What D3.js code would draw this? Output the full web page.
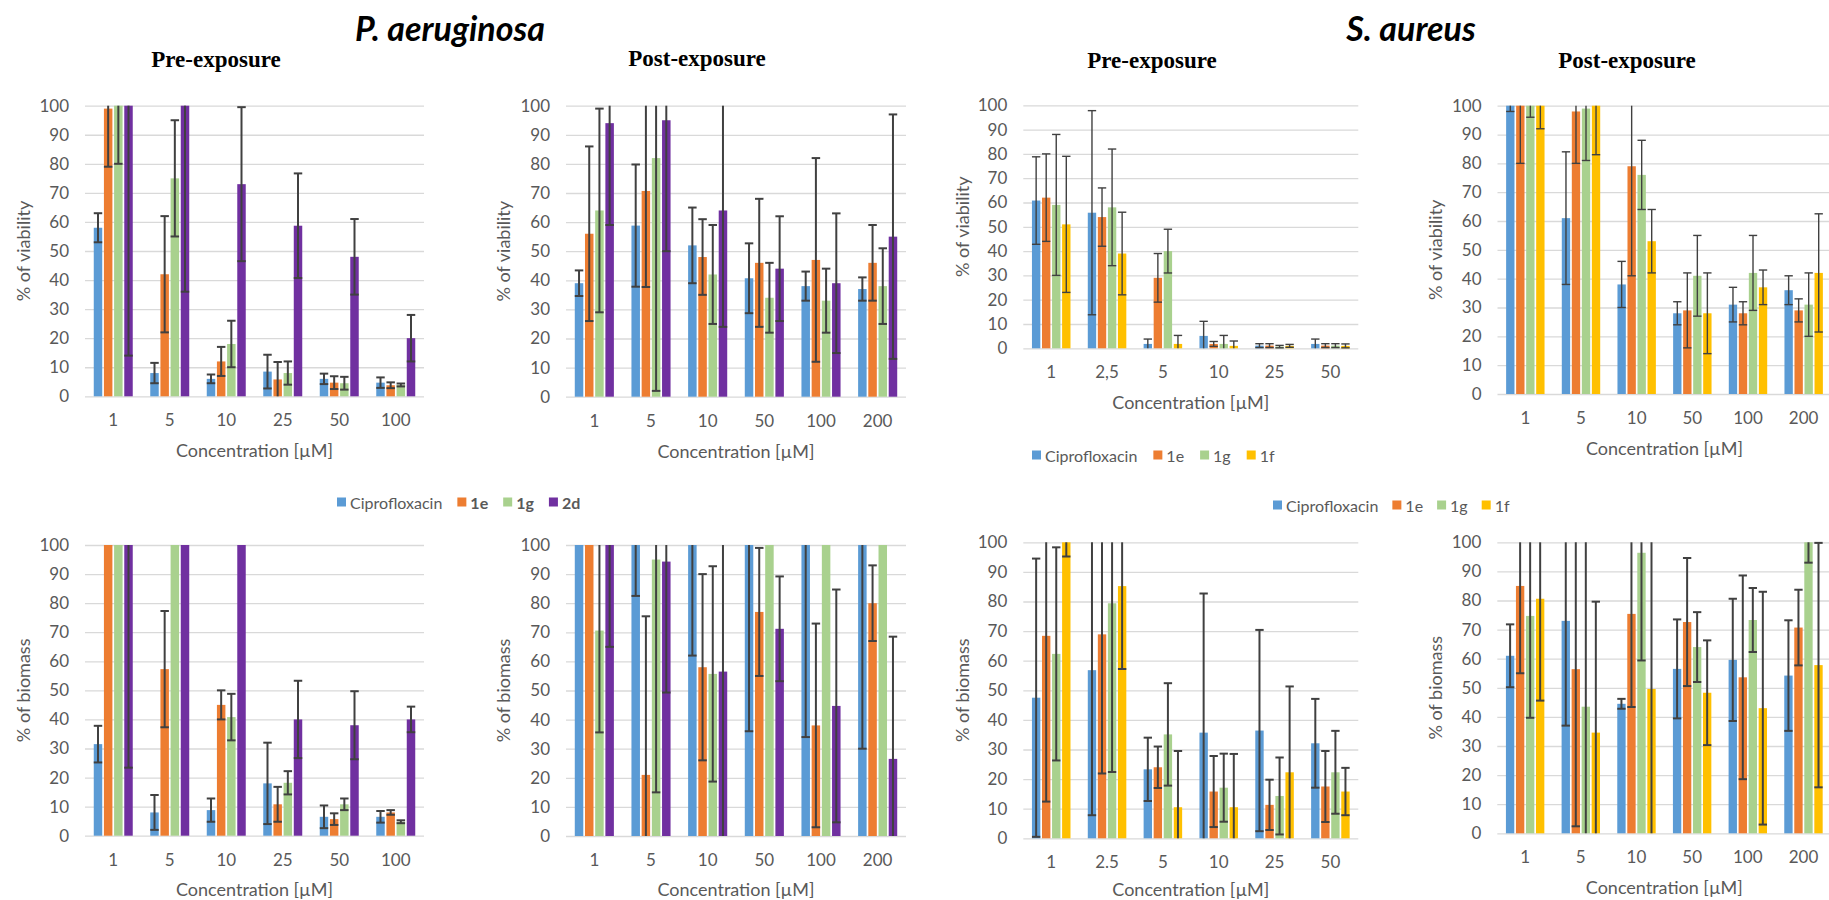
<!DOCTYPE html>
<html>
<head>
<meta charset="utf-8">
<script src="https://cdn.jsdelivr.net/npm/d3@7"></script>
<style>
  body { margin: 0; background: #fff; }
</style>
</head>
<body>
<div id="container"></div>
<script>
// categories
const paPreConc = ["1", "5", "10", "25", "50", "100"];
const paPostConc = ["1", "5", "10", "50", "100", "200"];
const saPreViabConc = ["1", "2,5", "5", "10", "25", "50"];
const saPreBioConc = ["1", "2.5", "5", "10", "25", "50"];
const saPostConc = ["1", "5", "10", "50", "100", "200"];
const paSeries = ["Ciprofloxacin", "1e", "1g", "2d"];
const saSeries = ["Ciprofloxacin", "1e", "1g", "1f"];
const yTicks = [0, 10, 20, 30, 40, 50, 60, 70, 80, 90, 100];

// P. aeruginosa, viability
const paPreViab = [
  [58, 8, 6, 8.5, 6, 4.7],
  [99, 42, 12, 5.8, 4.7, 3.8],
  [100, 75, 18, 8, 4.5, 3.9],
  [100, 100, 73, 58.7, 48, 20]
];
const paPreViabErr = [
  [5, 3.5, 1.5, 5.8, 1.8, 1.8],
  [20, 20, 5, 6, 2.2, 1],
  [20, 20, 8, 4, 2.2, 0.5],
  [86, 64, 26.5, 18, 13, 8]
];
const paPostViab = [
  [39, 58.8, 52, 40.7, 38, 37],
  [56, 70.7, 48, 46, 47, 46],
  [64, 82, 42, 34, 33, 38],
  [94, 95, 64, 44, 39, 55]
];
const paPostViabErr = [
  [4.4, 21, 13, 12, 5, 4],
  [30, 33, 13, 22, 35, 13],
  [35, 80, 17, 12, 11, 13],
  [35, 45, 40, 18, 24, 42]
];

// P. aeruginosa, biomass
const paPreBio = [
  [31.5, 8, 8.8, 18, 6.5, 6.5],
  [100, 57.3, 45, 10.8, 5.7, 8],
  [100, 100, 40.8, 18.2, 10.8, 4.8],
  [100, 100, 100, 40, 38, 40]
];
const paPreBioErr = [
  [6.3, 6, 4, 14, 3.9, 2],
  [0, 20, 5, 6, 2, 0.8],
  [0, 0, 8, 4, 2, 0.5],
  [76.6, 0, 0, 13.3, 11.7, 4.4]
];
const paPostBio = [
  [100, 100, 100, 100, 100, 100],
  [100, 21, 58, 77, 38, 80],
  [70.6, 95, 55.7, 100, 100, 100],
  [100, 94.3, 56.5, 71.2, 44.7, 26.5]
];
const paPostBioErr = [
  [0, 17.5, 38, 64, 66, 70],
  [0, 54.5, 32, 22, 35, 13],
  [35, 80, 37, 0, 0, 0],
  [35, 45, 57, 18, 40, 42]
];

// S. aureus, viability
const saPreViab = [
  [60.8, 55.8, 1.8, 5.1, 1.1, 1.8],
  [62, 54, 29, 1.8, 1.1, 1.1],
  [59, 58, 40, 1.8, 0.7, 1.1],
  [51, 39, 1.8, 1, 1, 1]
];
const saPreViabErr = [
  [18, 42, 2, 6, 0.8, 2],
  [18, 12, 10, 1, 0.8, 0.8],
  [29, 24, 9, 3.5, 0.5, 0.8],
  [28, 17, 3.5, 2, 0.6, 0.8]
];
const saPostViab = [
  [100, 61, 38, 28, 31, 36],
  [100, 98, 79, 29, 28, 29],
  [100, 99, 76, 41, 42, 31],
  [100, 100, 53, 28, 37, 42]
];
const saPostViabErr = [
  [2, 23, 8, 4, 6, 5],
  [20, 18, 38, 13, 4, 4],
  [4, 18, 12, 14, 13, 11],
  [8, 17, 11, 14, 6, 20.5]
];

// S. aureus, biomass
const saPreBio = [
  [47.5, 56.8, 23.3, 35.7, 36.4, 32.1],
  [68.4, 68.9, 24, 15.8, 11.3, 17.5],
  [62.3, 79.4, 35.1, 17.1, 14.3, 22.3],
  [100, 85.2, 10.5, 10.5, 22.3, 15.8]
];
const saPreBioErr = [
  [47, 49, 10.7, 47, 34, 15],
  [56, 47, 7, 12, 8.5, 12],
  [36, 57, 17.3, 11.5, 13, 14],
  [4.8, 28, 19, 18, 29, 8]
];
const saPostBio = [
  [61, 73, 44.5, 56.5, 59.6, 54.2],
  [85, 56.4, 75.4, 72.6, 53.6, 70.7],
  [74.7, 43.5, 96.4, 64, 73.3, 100],
  [80.6, 34.6, 49.6, 48.3, 43, 57.8]
];
const saPostBioErr = [
  [10.8, 36, 1.7, 17, 21, 19],
  [30, 54, 32, 22, 35, 13],
  [35, 57, 37, 12, 11, 7],
  [35, 45, 51, 18, 40, 42]
];

const paColors = ["#5B9BD5", "#ED7D31", "#A9D18E", "#7030A0"];
const saColors = ["#5B9BD5", "#ED7D31", "#A9D18E", "#FFC000"];

const WIDTH = 1829;
const HEIGHT = 900;
const FONT = "Lato, 'Open Sans', sans-serif";
const GREY = "#595959";

const svg = d3.select("#container")
  .append("svg")
  .attr("width", WIDTH)
  .attr("height", HEIGHT);

// layout of the eight panels
const panels = [
  { cats: paPreConc, series: paSeries, colors: paColors, vals: paPreViab, errs: paPreViabErr,
    left: 85, right: 424, top: 105.7, bottom: 396.3, ylab: "% of viability", ylabX: 23,
    title: "Pre-exposure", titleX: 216, titleY: 59, errW: 2 },
  { cats: paPostConc, series: paSeries, colors: paColors, vals: paPostViab, errs: paPostViabErr,
    left: 566, right: 906, top: 105.7, bottom: 396.7, ylab: "% of viability", ylabX: 503,
    title: "Post-exposure", titleX: 697, titleY: 58, errW: 2 },
  { cats: saPreViabConc, series: saSeries, colors: saColors, vals: saPreViab, errs: saPreViabErr,
    left: 1023.3, right: 1358.3, top: 105.3, bottom: 348.3, ylab: "% of viability", ylabX: 962,
    title: "Pre-exposure", titleX: 1152, titleY: 60, errW: 1.4 },
  { cats: saPostConc, series: saSeries, colors: saColors, vals: saPostViab, errs: saPostViabErr,
    left: 1497.5, right: 1831.5, top: 105.7, bottom: 394, ylab: "% of viability", ylabX: 1435,
    title: "Post-exposure", titleX: 1627, titleY: 60, errW: 1.4 },
  { cats: paPreConc, series: paSeries, colors: paColors, vals: paPreBio, errs: paPreBioErr,
    left: 85, right: 424, top: 545, bottom: 835.7, ylab: "% of biomass", ylabX: 23, errW: 2 },
  { cats: paPostConc, series: paSeries, colors: paColors, vals: paPostBio, errs: paPostBioErr,
    left: 566, right: 906, top: 545, bottom: 836, ylab: "% of biomass", ylabX: 503, errW: 2 },
  { cats: saPreBioConc, series: saSeries, colors: saColors, vals: saPreBio, errs: saPreBioErr,
    left: 1023.3, right: 1358.3, top: 542.3, bottom: 838.3, ylab: "% of biomass", ylabX: 962, errW: 2 },
  { cats: saPostConc, series: saSeries, colors: saColors, vals: saPostBio, errs: saPostBioErr,
    left: 1497.3, right: 1831.3, top: 542.3, bottom: 833.3, ylab: "% of biomass", ylabX: 1435, errW: 2 }
];

const drawPanel = (p) => {
  const g = svg.append("g");

  const xScale = d3.scaleBand()
    .domain(p.cats)
    .range([p.left, p.right]);
  const bw = xScale.bandwidth();
  const barW = bw * 0.15;
  const groupW = barW * 4.6;
  const xSeries = d3.scaleBand()
    .domain(p.series)
    .range([(bw - groupW) / 2, (bw + groupW) / 2])
    .paddingInner(1 / 6);

  const yScale = d3.scaleLinear()
    .domain([0, 100])
    .range([p.bottom, p.top])
    .clamp(true);

  // gridlines + y tick labels
  g.append("g")
    .attr("transform", "translate(" + p.left + ",0)")
    .call(d3.axisLeft(yScale).tickValues(yTicks).tickSize(-(p.right - p.left)).tickPadding(16))
    .call(a => a.select(".domain").remove())
    .call(a => a.selectAll("line").attr("stroke", "#D9D9D9").attr("stroke-width", 1.3))
    .call(a => a.selectAll("text").attr("fill", GREY).style("font-family", FONT).style("font-size", "17px"));

  // category labels
  g.append("g")
    .attr("transform", "translate(0," + p.bottom + ")")
    .call(d3.axisBottom(xScale).tickSize(0).tickPadding(18))
    .call(a => a.select(".domain").remove())
    .call(a => a.selectAll("text").attr("fill", GREY).style("font-family", FONT).style("font-size", "17px"));

  // bars
  p.series.forEach((s, si) => {
    g.selectAll(null)
      .data(p.vals[si])
      .enter()
      .append("rect")
      .attr("x", (d, i) => xScale(p.cats[i]) + xSeries(s))
      .attr("y", (d) => yScale(d))
      .attr("width", xSeries.bandwidth())
      .attr("height", (d) => yScale(0) - yScale(d))
      .attr("fill", p.colors[si]);
  });

  // error bars, clipped at the axis range like in Excel
  p.series.forEach((s, si) => {
    p.vals[si].forEach((v, i) => {
      const e = p.errs[si][i];
      if (!e) return;
      const cx = xScale(p.cats[i]) + xSeries(s) + xSeries.bandwidth() / 2;
      const hi = v + e, lo = v - e;
      g.append("line")
        .attr("x1", cx).attr("x2", cx)
        .attr("y1", yScale(hi)).attr("y2", yScale(lo))
        .attr("stroke", "#404040").attr("stroke-width", p.errW);
      [hi, lo].forEach(c => {
        if (c < 0 || c > 100) return;
        g.append("line")
          .attr("x1", cx - barW / 2).attr("x2", cx + barW / 2)
          .attr("y1", yScale(c)).attr("y2", yScale(c))
          .attr("stroke", "#404040").attr("stroke-width", p.errW);
      });
    });
  });

  // y axis title
  g.append("text")
    .attr("transform", "translate(" + p.ylabX + "," + (p.top + p.bottom) / 2 + ") rotate(-90)")
    .attr("text-anchor", "middle")
    .attr("dominant-baseline", "central")
    .attr("fill", GREY)
    .style("font-family", FONT).style("font-size", "18px")
    .text(p.ylab);

  // x axis title
  g.append("text")
    .attr("x", (p.left + p.right) / 2)
    .attr("y", Math.min(p.bottom + 54, 889))
    .attr("text-anchor", "middle")
    .attr("dominant-baseline", "central")
    .attr("fill", GREY)
    .style("font-family", FONT).style("font-size", "18px")
    .text("Concentration [\u00B5M]");

  if (p.title) {
    g.append("text")
      .attr("x", p.titleX).attr("y", p.titleY)
      .attr("text-anchor", "middle")
      .attr("dominant-baseline", "central")
      .style("font-family", "'Liberation Serif', serif")
      .style("font-weight", "bold")
      .style("font-size", "23px")
      .text(p.title);
  }
};

panels.forEach(drawPanel);

// legends
const drawLegend = (names, colors, x, y, gap, boldFrom) => {
  const g = svg.append("g");
  let cx = x;
  names.forEach((n, i) => {
    g.append("rect")
      .attr("x", cx).attr("y", y - 4.5)
      .attr("width", 9).attr("height", 9)
      .attr("fill", colors[i]);
    const t = g.append("text")
      .attr("x", cx + 13).attr("y", y)
      .attr("dominant-baseline", "central")
      .attr("fill", GREY)
      .style("font-family", FONT).style("font-size", "16px")
      .style("font-weight", boldFrom && i > 0 ? "bold" : "normal")
      .text(n);
    cx += 13 + t.node().getComputedTextLength() + gap;
  });
};

drawLegend(paSeries, paColors, 337, 502, 15, true);
drawLegend(saSeries, saColors, 1032, 455, 16, false);
drawLegend(saSeries, saColors, 1273, 505, 14, false);

// organism titles
[["P. aeruginosa", 450], ["S. aureus", 1411]].forEach(([name, cx]) => {
  svg.append("text")
    .attr("x", cx).attr("y", 27)
    .attr("text-anchor", "middle")
    .attr("dominant-baseline", "central")
    .style("font-family", FONT)
    .style("font-weight", "bold")
    .style("font-style", "italic")
    .style("font-size", "34px")
    .text(name);
});
</script>
</body>
</html>
